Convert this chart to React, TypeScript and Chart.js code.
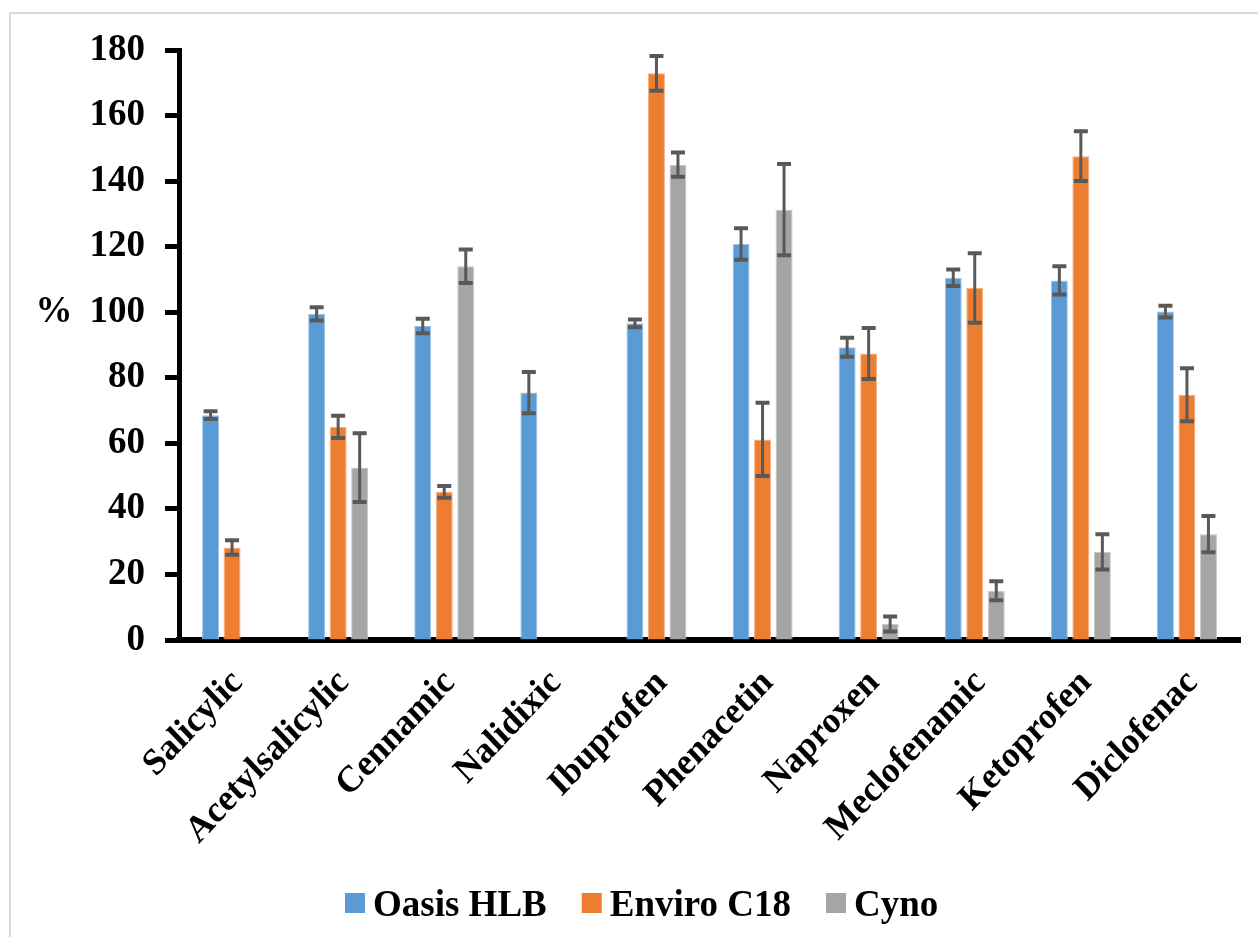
import { useEffect, useRef } from 'react';
import { Chart, registerables } from 'chart.js';

Chart.register(...registerables);

const FONT = '"Liberation Serif", "Times New Roman", serif';

const categories = ['Salicylic', 'Acetylsalicylic', 'Cennamic', 'Nalidixic', 'Ibuprofen', 'Phenacetin', 'Naproxen', 'Meclofenamic', 'Ketoprofen', 'Diclofenac'];
const seriesNames = ['Oasis HLB', 'Enviro C18', 'Cyno'];
const seriesColors = ['#5B9BD5', '#ED7D31', '#A5A5A5'];
const seriesEdge = ['#9CC2E5', '#F4B183', '#C9C9C9'];

const oasis = [68.6, 99.5, 95.8, 75.5, 96.6, 120.8, 89.3, 110.5, 109.7, 100.2];
const oasisErr = [1.2, 2.0, 2.2, 6.3, 1.2, 4.8, 2.9, 2.5, 4.3, 1.8];
const enviro = [28.2, 65.0, 45.2, null, 172.9, 61.2, 87.4, 107.4, 147.6, 74.8];
const enviroErr = [2.2, 3.4, 1.8, null, 5.3, 11.2, 7.8, 10.6, 7.6, 8.1];
const cyno = [null, 52.6, 114.0, null, 145.0, 131.3, 4.9, 15.0, 26.9, 32.3];
const cynoErr = [null, 10.5, 5.1, null, 3.7, 13.9, 2.3, 2.9, 5.4, 5.5];

const seriesValues = [oasis, enviro, cyno];
const seriesErrors = [oasisErr, enviroErr, cynoErr];

const yMin = 0;
const yMax = 180;
const yStep = 20;
const yTitle = '%';

const errorBarPlugin = {
  id: 'errorBars',
  afterDatasetsDraw(chart: any) {
    const ctx = chart.ctx;
    const y = chart.scales.y;
    chart.data.datasets.forEach((ds: any, di: number) => {
      const meta = chart.getDatasetMeta(di);
      const errs = seriesErrors[di];
      meta.data.forEach((bar: any, i: number) => {
        const v = ds.data[i];
        const e = errs[i];
        if (v == null || e == null) return;
        const yt = y.getPixelForValue(v + e);
        const yb = y.getPixelForValue(v - e);
        ctx.save();
        ctx.strokeStyle = '#595959';
        ctx.lineWidth = 3;
        ctx.beginPath();
        ctx.moveTo(bar.x, yt);
        ctx.lineTo(bar.x, yb);
        ctx.stroke();
        ctx.lineWidth = 4;
        ctx.beginPath();
        ctx.moveTo(bar.x - 7, yt);
        ctx.lineTo(bar.x + 7, yt);
        ctx.moveTo(bar.x - 7, yb);
        ctx.lineTo(bar.x + 7, yb);
        ctx.stroke();
        ctx.restore();
      });
    });
  },
};

const decorPlugin = {
  id: 'decor',
  beforeDraw(chart: any) {
    const ctx = chart.ctx;
    ctx.save();
    ctx.fillStyle = '#ffffff';
    ctx.fillRect(0, 0, chart.width, chart.height);
    ctx.strokeStyle = '#d9d9d9';
    ctx.lineWidth = 2;
    ctx.beginPath();
    ctx.moveTo(10, chart.height);
    ctx.lineTo(10, 13);
    ctx.lineTo(chart.width, 13);
    ctx.stroke();
    ctx.restore();
  },
  afterDraw(chart: any) {
    const ctx = chart.ctx;
    const y = chart.scales.y;
    const x = chart.scales.x;
    ctx.save();
    ctx.fillStyle = '#000';
    ctx.font = `bold 37px ${FONT}`;
    ctx.textAlign = 'center';
    ctx.textBaseline = 'middle';
    ctx.fillText(yTitle, 54, y.getPixelForValue(100));

    // category labels, rotated 45 degrees
    ctx.font = `bold 35px ${FONT}`;
    ctx.textAlign = 'right';
    ctx.textBaseline = 'top';
    categories.forEach((label, i) => {
      const px = x.getPixelForTick(i);
      ctx.save();
      ctx.translate(px - 7, 664);
      ctx.scale(1, 1.06);
      ctx.rotate(-Math.PI / 4);
      ctx.fillText(label, 0, 0);
      ctx.restore();
    });

    // legend
    ctx.font = `bold 37px ${FONT}`;
    ctx.textAlign = 'left';
    ctx.textBaseline = 'alphabetic';
    let lx = 345;
    chart.data.datasets.forEach((ds: any) => {
      ctx.fillStyle = ds.backgroundColor;
      ctx.fillRect(lx, 893, 20, 20);
      lx += 28;
      ctx.fillStyle = '#000';
      ctx.fillText(ds.label, lx, 916);
      lx += ctx.measureText(ds.label).width + 35;
    });
    ctx.restore();
  },
};

export default function App() {
  const ref = useRef<HTMLCanvasElement | null>(null);
  useEffect(() => {
    if (!ref.current) return;
    const chart = new Chart(ref.current, {
      type: 'bar',
      data: {
        labels: categories,
        datasets: seriesNames.map((name, i) => ({
          label: name,
          data: seriesValues[i],
          backgroundColor: seriesColors[i],
          borderColor: seriesEdge[i],
          borderWidth: 1,
          categoryPercentage: 0.608,
          barPercentage: 0.79,
        })),
      },
      options: {
        responsive: false,
        animation: false,
        layout: { padding: { top: 50, right: 18, bottom: 97, left: 0 } },
        plugins: {
          legend: { display: false },
          tooltip: { enabled: false },
        },
        scales: {
          x: {
            grid: { display: false, drawTicks: false },
            border: { display: true, color: '#000', width: 6 },
            ticks: { display: false },
            afterFit(s: any) {
              s.height = 200;
            },
          },
          y: {
            min: yMin,
            max: yMax,
            grid: { drawOnChartArea: false, drawTicks: true, tickLength: 14, tickWidth: 5, color: '#000' },
            border: { display: true, color: '#000', width: 5 },
            ticks: {
              stepSize: yStep,
              color: '#000',
              font: { family: FONT, size: 37, weight: 'bold' },
              padding: 20,
            },
            afterFit(s: any) {
              s.width = 179;
            },
          },
        },
      },
      plugins: [decorPlugin, errorBarPlugin],
    });
    return () => chart.destroy();
  }, []);
  return (
    <div style={{ position: 'fixed', left: 0, top: 0, width: 1258, height: 937, background: '#fff' }}>
      <canvas ref={ref} width={1258} height={937} style={{ display: 'block' }} />
    </div>
  );
}
